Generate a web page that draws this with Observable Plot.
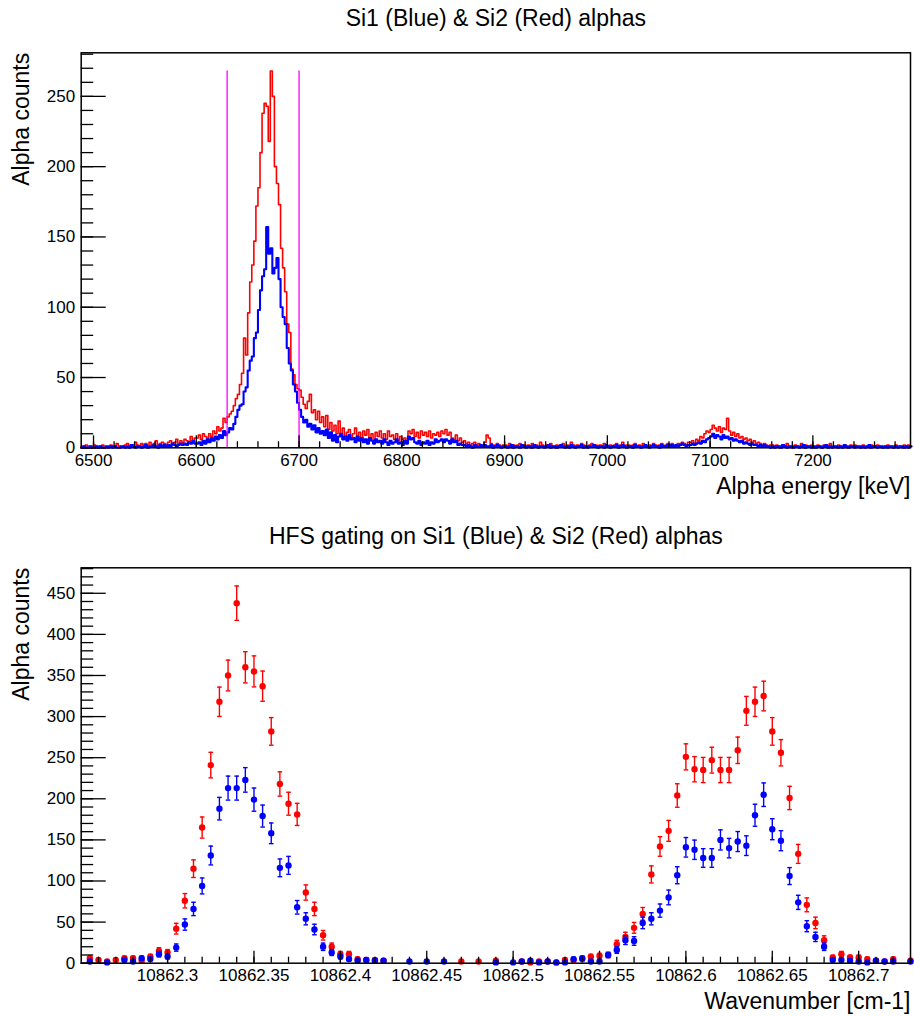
<!DOCTYPE html>
<html><head><meta charset="utf-8">
<script src="https://cdn.jsdelivr.net/npm/d3@7"></script>
<script src="https://cdn.jsdelivr.net/npm/@observablehq/plot@0.6"></script>
<style>
body{margin:0;background:#fff;}
#wrap{width:914px;height:1016px;background:#fff;}
#wrap svg{display:block;}
</style></head><body><div id="wrap"></div>
<script>
// ---------- Top panel: alpha energy spectra (2 keV bins starting at 6488 keV) ----------
const energyBinStart = 6488;
const energyBinWidth = 2;
const energyDomain = [6488, 7295];
const si2Counts = [ // red
  1,0,2,1,0,1,2,0,1,1,
  2,1,0,1,2,1,1,3,1,0,
  1,2,3,1,2,2,4,2,1,3,
  2,3,1,4,2,3,5,2,3,4,
  3,2,4,5,3,4,6,3,5,4,
  6,5,4,8,5,7,
  7,9,6,10,8,7,10,8,12,10,
  15,12,14,21,18,22,24,26,30,35,
  38,45,53,78,66,96,118,130,147,172,
  185,210,238,245,243,218,268,250,200,188,
  173,142,128,111,88,82,56,52,45,42,
  41,36,31,28,33,38,25,27,20,26,
  18,22,15,23,13,18,12,16,10,19,
  9,14,8,11,13,7,10,14,8,11,
  6,12,9,13,7,10,5,11,8,12,
  7,10,6,12,8,9,6,10,5,8,
  6,7,5,12,10,13,8,11,7,12,
  9,11,8,12,7,10,9,11,8,12,
  10,13,9,11,7,6,9,5,7,4,
  5,3,4,2,3,4,2,3,2,1,
  4,9,7,3,2,1,3,2,1,2,
  2,1,3,0,2,1,2,3,1,2,
  1,2,0,3,1,2,1,4,2,1,
  2,1,3,1,0,2,1,2,3,1,
  2,1,4,2,1,2,1,3,2,1,
  1,2,3,1,2,1,2,1,3,2,
  1,2,1,2,3,1,2,4,1,2,
  2,1,2,3,1,2,1,3,2,1,
  2,1,3,2,1,2,3,1,2,3,
  2,3,1,2,3,2,4,3,2,4,
  4,5,3,6,5,8,7,10,12,11,
  13,16,14,12,15,11,14,13,21,12,
  9,11,8,10,7,8,6,7,5,6,
  4,5,3,4,3,2,3,2,1,2,
  2,1,2,0,1,2,1,3,1,0,
  1,2,1,1,3,0,2,1,1,2,
  0,1,2,1,0,2,1,1,3,1,
  1,0,2,1,1,2,0,1,2,1,
  2,1,0,1,2,1,1,0,2,1,
  1,2,1,0,1,1,2,1,0,1,
  2,1,1,0,2,1,2,1
];
const si1Counts = [ // blue
  0,1,0,0,1,0,0,1,0,1,
  0,0,1,0,1,0,1,0,0,1,
  1,0,1,0,2,1,0,1,1,0,
  1,2,0,1,1,2,1,0,2,1,
  2,1,2,1,3,2,1,2,3,2,
  3,2,4,3,5,3,
  3,4,2,5,3,6,4,7,5,8,
  6,9,7,12,9,11,14,13,17,22,
  27,30,31,40,43,55,62,65,78,82,
  98,112,122,127,157,138,142,124,128,135,
  120,100,93,88,71,60,55,45,40,32,
  27,22,18,20,15,17,13,16,11,14,
  10,12,9,13,7,11,5,9,4,8,
  10,6,8,5,9,6,7,4,8,5,
  7,4,6,3,7,5,3,6,4,5,
  3,6,4,2,5,3,4,6,3,4,
  2,5,3,8,6,7,4,3,5,2,
  4,3,5,2,4,3,6,4,5,6,
  4,6,5,3,6,4,5,2,3,2,
  2,1,2,1,0,2,1,1,2,1,
  2,1,1,2,0,1,2,1,0,1,
  1,0,1,2,0,1,1,0,2,1,
  0,1,1,0,2,1,0,1,1,0,
  1,2,0,1,1,0,1,2,1,0,
  1,0,2,1,0,1,1,2,0,1,
  0,1,1,2,1,0,1,1,0,2,
  1,0,1,1,2,0,1,2,1,0,
  1,1,0,2,1,1,0,1,2,1,
  0,1,2,1,1,0,2,1,1,2,
  1,2,1,2,1,2,3,2,1,2,
  2,3,2,3,4,3,5,4,6,7,
  8,10,7,9,8,6,9,7,8,6,
  7,5,6,5,4,5,3,4,3,2,
  3,2,2,1,2,1,2,1,1,0,
  1,0,1,1,0,2,1,0,1,1,
  0,1,1,0,1,2,0,1,1,0,
  1,0,1,1,0,1,2,0,1,0,
  1,1,0,1,0,2,1,0,1,1,
  0,1,1,0,1,0,1,2,0,1,
  1,0,1,1,0,1,0,1,1,0,
  1,0,1,1,0,1,0,1
];
const gateEnergies = [6630, 6700];
const gateHeight = 268;
const countsDomainTop = [0, 281];
const energyMajorTicks = [6500, 6600, 6700, 6800, 6900, 7000, 7100, 7200];
const energyMajorLabels = ["6500", "6600", "6700", "6800", "6900", "7000", "7100", "7200"];
const countsMajorTop = [0, 50, 100, 150, 200, 250];
const countsMajorTopLabels = ["0", "50", "100", "150", "200", "250"];

// ---------- Bottom panel: HFS scan ----------
const waveDomain = [10862.25, 10862.73];
const wavenumbers = [
  10862.255,10862.26,10862.265,10862.27,10862.275,10862.28,10862.285,10862.29,10862.295,10862.30,
  10862.305,10862.31,10862.315,10862.32,10862.325,10862.33,10862.335,10862.34,10862.345,10862.35,
  10862.355,10862.36,10862.365,10862.37,10862.375,10862.38,10862.385,10862.39,10862.395,10862.40,
  10862.405,10862.41,10862.415,10862.42,10862.425,
  10862.44,10862.45,10862.46,10862.47,10862.48,10862.49,
  10862.50,10862.505,10862.51,10862.515,10862.52,10862.525,10862.53,10862.535,10862.54,10862.545,
  10862.55,10862.555,10862.56,10862.565,10862.57,10862.575,10862.58,10862.585,10862.59,10862.595,
  10862.60,10862.605,10862.61,10862.615,10862.62,10862.625,10862.63,10862.635,10862.64,10862.645,
  10862.65,10862.655,10862.66,10862.665,10862.67,10862.675,10862.68,10862.685,10862.69,10862.695,
  10862.70,10862.705,10862.71,10862.715,10862.72,
  10862.73
];
const hfsSi2 = [ // red
  6,4,2,4,6,6,3,8,15,13,
  42,76,115,165,241,318,350,438,360,355,
  337,282,218,194,181,86,66,34,20,11,
  11,5,4,4,3,
  0,0,0,2,2,3,
  0,2,1,2,2,1,4,4,5,8,
  9,10,23,32,43,60,108,142,161,204,
  251,236,235,247,235,235,259,307,318,325,
  282,256,201,133,71,49,28,7,11,7,
  7,5,3,2,5,
  3
];
const hfsSi1 = [ // blue
  2,0,1,0,4,2,6,5,11,8,
  19,47,66,94,131,188,213,213,223,199,
  179,158,116,119,68,54,41,20,13,8,
  5,3,4,3,3,
  2,2,2,0,0,1,
  1,2,3,1,2,1,1,5,6,2,
  2,10,16,28,27,49,54,64,80,107,
  141,138,128,128,150,140,148,143,180,205,
  163,149,106,74,45,32,20,4,4,3,
  2,1,3,2,2,
  2
];
const countsDomainBottom = [0, 481];
const waveMajorTicks = [10862.3, 10862.35, 10862.4, 10862.45, 10862.5, 10862.55, 10862.6, 10862.65, 10862.7];
const waveMajorLabels = ["10862.3", "10862.35", "10862.4", "10862.45", "10862.5", "10862.55", "10862.6", "10862.65", "10862.7"];
const countsMajorBottom = [0, 50, 100, 150, 200, 250, 300, 350, 400, 450];
const countsMajorBottomLabels = ["0", "50", "100", "150", "200", "250", "300", "350", "400", "450"];

const titleTop = "Si1 (Blue) & Si2 (Red) alphas";
const titleBottom = "HFS gating on Si1 (Blue) & Si2 (Red) alphas";
const xTitleTop = "Alpha energy [keV]";
const xTitleBottom = "Wavenumber [cm-1]";
const yTitle = "Alpha counts";

// ---------- styling ----------
const RED = "#ff0000", BLUE = "#0000ff", MAGENTA = "#ff00ff";
const FONT = "'Liberation Sans', Arial, Helvetica, sans-serif";
const TICK_FS = 17, TITLE_FS = 23;

function stepData(counts) {
  const d = counts.map((c, i) => ({x: energyBinStart + i * energyBinWidth, y: c}));
  d.push({x: energyBinStart + counts.length * energyBinWidth, y: counts[counts.length - 1]});
  return d;
}
function labelFor(values, labels) {
  return (v) => { const i = values.findIndex(t => Math.abs(t - v) < 1e-9); return i >= 0 ? labels[i] : ""; };
}
const blank = () => "";
const capSymbol = {draw(ctx) { ctx.moveTo(-2.3, 0); ctx.lineTo(2.3, 0); }};

function axesMarks(xMajor, xMajorLabels, xMinor, yMajor, yMajorLabels, yMinor) {
  return [
    Plot.axisX(xMinor, {anchor: "bottom", tickSize: -6, tickFormat: blank, strokeWidth: 1.3, label: null}),
    Plot.axisX(xMajor, {anchor: "bottom", tickSize: -12, tickFormat: blank, strokeWidth: 1.3, label: null}),
    Plot.axisX(xMajor, {anchor: "bottom", tickSize: 0, tickPadding: 6, tickFormat: labelFor(xMajor, xMajorLabels), fontSize: TICK_FS, label: null}),
    Plot.axisY(yMinor, {anchor: "left", tickSize: -12.5, tickFormat: blank, strokeWidth: 1.3, label: null}),
    Plot.axisY(yMajor, {anchor: "left", tickSize: -25, tickFormat: blank, strokeWidth: 1.3, label: null}),
    Plot.axisY(yMajor, {anchor: "left", tickSize: 0, tickPadding: 6, tickFormat: labelFor(yMajor, yMajorLabels), fontSize: TICK_FS, label: null}),
    Plot.frame({stroke: "black", strokeWidth: 1.5})
  ];
}

// ---------- top plot ----------
const topChart = Plot.plot({
  width: 914, height: 500,
  marginTop: 52.3, marginBottom: 52.7, marginLeft: 80.7, marginRight: 4,
  style: {fontFamily: FONT, fontSize: TICK_FS + "px", color: "black", background: "white", overflow: "visible"},
  x: {domain: energyDomain},
  y: {domain: countsDomainTop},
  marks: [
    Plot.line(stepData(si2Counts), {x: "x", y: "y", curve: "step-after", stroke: RED, strokeWidth: 1.6}),
    Plot.line(stepData(si1Counts), {x: "x", y: "y", curve: "step-after", stroke: BLUE, strokeWidth: 2.1}),
    Plot.ruleX(gateEnergies, {y1: 0, y2: gateHeight, stroke: MAGENTA, strokeWidth: 1.3}),
    ...axesMarks(energyMajorTicks, energyMajorLabels, d3.range(6500, 7296, 20),
                 countsMajorTop, countsMajorTopLabels, d3.range(0, 281, 10)),
    Plot.text([titleTop], {frameAnchor: "top", lineAnchor: "middle", dy: -34.3, fontSize: TITLE_FS}),
    Plot.text([xTitleTop], {frameAnchor: "bottom-right", lineAnchor: "middle", textAnchor: "end", dy: 39, fontSize: TITLE_FS}),
    Plot.text([yTitle], {frameAnchor: "top-left", lineAnchor: "middle", textAnchor: "end", rotate: -90, dx: -60, fontSize: TITLE_FS})
  ]
});

// ---------- bottom plot ----------
function pts(vals) { return wavenumbers.map((x, i) => ({x, y: vals[i]})).filter(d => d.y > 0); }
function errMarks(data, color) {
  return [
    Plot.ruleX(data, {x: "x", y1: d => d.y - Math.sqrt(d.y), y2: d => d.y + Math.sqrt(d.y), stroke: color, strokeWidth: 1.4}),
    Plot.dot(data, {x: "x", y: d => d.y - Math.sqrt(d.y), symbol: capSymbol, stroke: color, fill: "none", strokeWidth: 1.4}),
    Plot.dot(data, {x: "x", y: d => d.y + Math.sqrt(d.y), symbol: capSymbol, stroke: color, fill: "none", strokeWidth: 1.4}),
    Plot.dot(data, {x: "x", y: "y", r: 3.2, fill: color, stroke: "none"})
  ];
}
const redPts = pts(hfsSi2), bluePts = pts(hfsSi1);
const bottomChart = Plot.plot({
  width: 914, height: 516,
  marginTop: 67.3, marginBottom: 53.3, marginLeft: 80.7, marginRight: 4,
  style: {fontFamily: FONT, fontSize: TICK_FS + "px", color: "black", background: "white", overflow: "visible"},
  x: {domain: waveDomain},
  y: {domain: countsDomainBottom},
  marks: [
    ...errMarks(redPts, RED),
    ...errMarks(bluePts, BLUE),
    ...axesMarks(waveMajorTicks, waveMajorLabels, d3.range(26, 74).map(k => 10862 + k / 100),
                 countsMajorBottom, countsMajorBottomLabels, d3.range(0, 481, 10)),
    Plot.text([titleBottom], {frameAnchor: "top", lineAnchor: "middle", dy: -31.3, fontSize: TITLE_FS}),
    Plot.text([xTitleBottom], {frameAnchor: "bottom-right", lineAnchor: "middle", textAnchor: "end", dy: 38.5, fontSize: TITLE_FS}),
    Plot.text([yTitle], {frameAnchor: "top-left", lineAnchor: "middle", textAnchor: "end", rotate: -90, dx: -60, fontSize: TITLE_FS})
  ]
});

const wrap = document.getElementById("wrap");
wrap.appendChild(topChart);
wrap.appendChild(bottomChart);
</script>
</body></html>
